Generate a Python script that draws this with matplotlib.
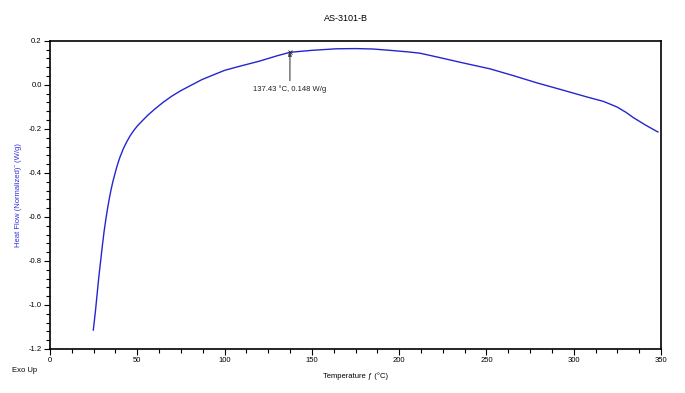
"""
DSC trace of sample AS-3101-B (normalized heat flow vs temperature).
"""

import numpy as np
import matplotlib
matplotlib.use("Agg")
import matplotlib.pyplot as plt
from matplotlib.ticker import MultipleLocator, FormatStrFormatter

plt.rcParams["font.family"] = ["Liberation Sans", "DejaVu Sans"]

# values
temperature = [24.8, 26.0, 27.0, 28.0, 29.0, 30.0, 31.0, 32.0, 33.0, 34.0,
               35.0, 36.0, 37.0, 38.0, 39.0, 40.0, 42.0, 44.0, 46.0, 48.0,
               50.0, 53.0, 56.0, 60.0, 65.0, 70.0, 75.0, 80.0, 87.0, 95.0,
               100.0, 108.8, 120.0, 130.0, 137.43, 150.0, 164.0, 175.0,
               185.0, 194.7, 205.0, 211.9, 221.6, 236.5, 252.0, 265.0, 279.0,
               293.0, 307.6, 317.0, 324.7, 330.0, 334.0, 341.0, 348.2]
heat_flow = [-1.114, -1.03, -0.95, -0.87, -0.80, -0.73, -0.665, -0.61, -0.56,
             -0.515, -0.475, -0.44, -0.41, -0.38, -0.354, -0.33, -0.29, -0.258,
             -0.23, -0.207, -0.187, -0.162, -0.138, -0.11, -0.078, -0.05,
             -0.026, -0.005, 0.024, 0.05, 0.066, 0.085, 0.108, 0.132, 0.148,
             0.157, 0.164, 0.165, 0.163, 0.157, 0.150, 0.144, 0.127, 0.100,
             0.073, 0.043, 0.009, -0.022, -0.055, -0.075, -0.100, -0.125,
             -0.148, -0.182, -0.214]

peak_T = 137.43
peak_hf = 0.148
peak_label = "137.43 °C, 0.148 W/g"

fig = plt.figure(figsize=(6.85, 3.93), dpi=100)
ax = fig.add_axes([0.073, 0.112, 0.892, 0.784])

ax.plot(temperature, heat_flow, color="#2525d0", lw=1.0)

# point label with arrow
ax.annotate(peak_label, xy=(peak_T, peak_hf), xytext=(peak_T, 0.0),
            ha="center", va="top", fontsize=5.5, color="#202020",
            arrowprops=dict(arrowstyle="-|>", color="#404040", lw=0.8,
                            mutation_scale=5, shrinkA=1, shrinkB=0))
ax.plot([peak_T], [peak_hf], marker="x", ms=3, color="#202020", mew=0.6)

ax.set_xlim(0, 350)
ax.set_ylim(-1.2, 0.2)
ax.xaxis.set_major_locator(MultipleLocator(50))
ax.xaxis.set_minor_locator(MultipleLocator(12.5))
ax.yaxis.set_major_locator(MultipleLocator(0.2))
ax.yaxis.set_minor_locator(MultipleLocator(0.04))
ax.yaxis.set_major_formatter(FormatStrFormatter("%.1f"))

ax.tick_params(which="both", direction="out", labelsize=5.5, width=0.8, pad=2)
ax.tick_params(which="major", length=4)
ax.tick_params(which="minor", length=3)
for s in ax.spines.values():
    s.set_linewidth(1.2)

ax.set_xlabel("Temperature \u0192 (°C)", fontsize=5.5, labelpad=6)
ax.set_ylabel("Heat Flow (Normalized)\u02c6 (W/g)", fontsize=5.5,
              color="#3030e0", labelpad=5)
fig.text(0.505, 0.954, "AS-3101-B", ha="center", va="center", fontsize=6.5)
fig.text(0.018, 0.058, "Exo Up", ha="left", va="center", fontsize=5.5)

fig.savefig("out.png", dpi=100)
plt.close(fig)
